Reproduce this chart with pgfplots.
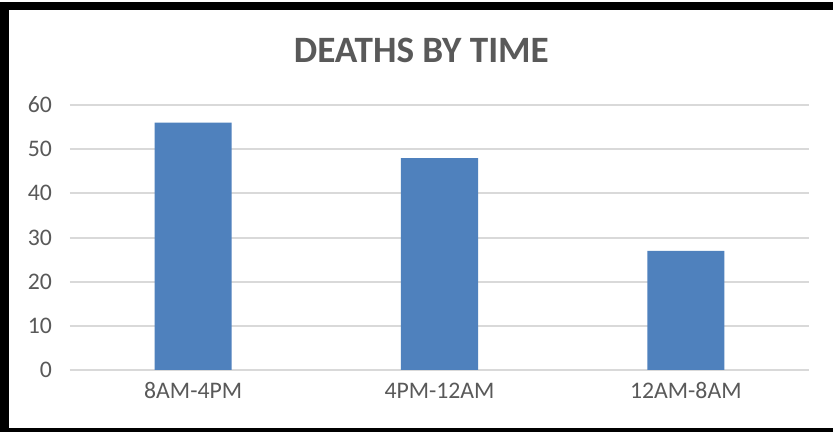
\documentclass[border=0pt]{standalone}
\usepackage{pgfplots}
\pgfplotsset{compat=1.18}
\usepackage{fontspec}
\setmainfont{Carlito}
\definecolor{barblue}{HTML}{4F81BD}
\definecolor{txtgrey}{HTML}{595959}
\definecolor{gridgrey}{HTML}{D9D9D9}
\begin{document}
\begin{tikzpicture}[x=1pt,y=1pt]
\path[fill=white] (0,0) rectangle (624.75,324);
\fill[black] (0,0) rectangle (6.75,322.5);
\fill[black] (0,316.5) rectangle (624.75,322.5);
\fill[black] (0,0) rectangle (624.75,3);
\node[text=txtgrey, font=\fontsize{27.9}{30}\selectfont\bfseries] at (316,286.5) {DEATHS BY TIME};
\begin{axis}[
  at={(52.5pt,46.5pt)}, anchor=south west,
  scale only axis, width=554.25pt, height=198.75pt,
  xmin=-0.5, xmax=2.5, ymin=0, ymax=60,
  xtick={0,1,2}, xticklabels={8AM-4PM,4PM-12AM,12AM-8AM},
  ytick={0,10,20,30,40,50,60},
  axis line style={draw=none},
  major tick length=0pt,
  ymajorgrids, grid style={gridgrey, line width=1.5pt},
  tick label style={text=txtgrey, font=\fontsize{17.8}{20}\selectfont},
  /pgf/number format/assume math mode=true,
  yticklabel style={xshift=-10pt},
  xticklabel style={yshift=-6pt},
  clip=false,
]
\addplot[ybar, bar width=57.75pt, fill=barblue, draw=none] coordinates {(0,56) (1,48) (2,27)};
\end{axis}
\end{tikzpicture}
\end{document}
